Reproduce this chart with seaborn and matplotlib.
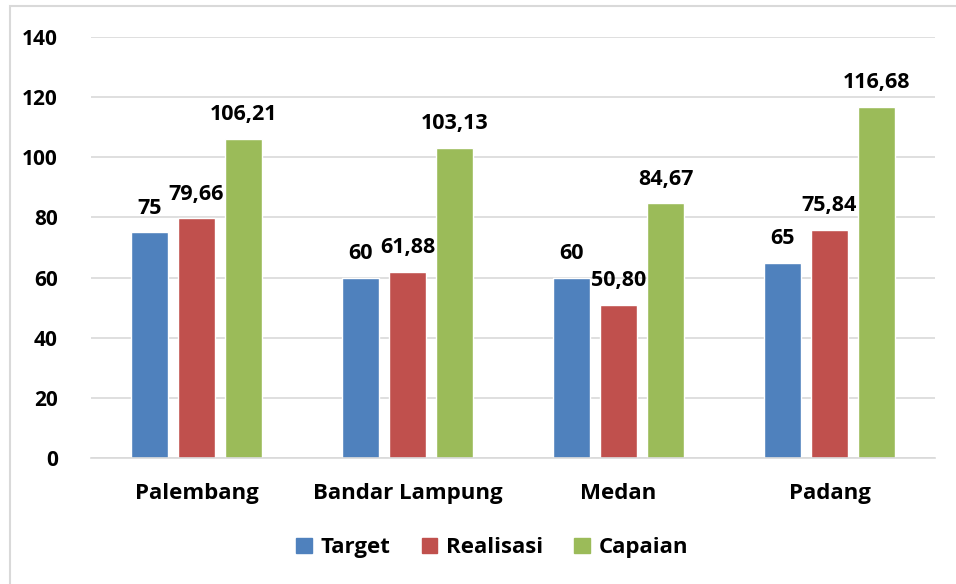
import matplotlib.pyplot as plt
import matplotlib.patches as mpatches
import seaborn as sns
import pandas as pd

cities = ["Palembang", "Bandar Lampung", "Medan", "Padang"]
target = [75, 60, 60, 65]
realisasi = [79.66, 61.88, 50.80, 75.84]
capaian = [106.21, 103.13, 84.67, 116.68]
series = ["Target", "Realisasi", "Capaian"]
colors = ["#4F81BD", "#C0504D", "#9BBB59"]

df = pd.DataFrame({
    "kota": cities * 3,
    "seri": [s for s in series for _ in cities],
    "nilai": target + realisasi + capaian,
})

sns.set_style("white")
plt.rcParams['font.family'] = ['Open Sans', 'DejaVu Sans']
plt.rcParams['font.weight'] = 'bold'
plt.rcParams['text.color'] = 'black'
plt.rcParams['xtick.color'] = 'black'
plt.rcParams['ytick.color'] = 'black'

fig = plt.figure(figsize=(9.56, 5.84), dpi=100)
ax = fig.add_axes([0.0952, 0.2158, 0.8828, 0.7208])

sns.barplot(data=df, x="kota", y="nilai", hue="seri", hue_order=series,
            palette=colors, width=0.67, gap=0.2, saturation=1, ax=ax, legend=False)

ax.set_ylim(0, 140)
ax.set_xlim(-0.5, 3.5)
ax.set_yticks(range(0, 141, 20))
ax.yaxis.grid(True, color="#d9d9d9", linewidth=1.2)
ax.set_axisbelow(True)
for s in ["top", "right", "left"]:
    ax.spines[s].set_visible(False)
ax.spines["bottom"].set_color("#d9d9d9")
ax.spines["bottom"].set_linewidth(1.2)
ax.set_xlabel("")
ax.set_ylabel("")
ax.tick_params(axis="y", length=0, labelsize=15, labelcolor="black", pad=24)
ax.tick_params(axis="x", length=0, labelsize=16, labelcolor="black", pad=18)
for lbl in ax.get_xticklabels() + ax.get_yticklabels():
    lbl.set_fontweight("bold")

for cont in ax.containers:
    labels = [f"{v:.2f}".replace(".", ",") if v != int(v) else f"{int(v)}" for v in cont.datavalues]
    ax.bar_label(cont, labels=labels, padding=10, fontsize=15.5, fontweight="bold",
                 color="black")

handles = [mpatches.Patch(color=c, label=s) for c, s in zip(colors, series)]
leg = fig.legend(handles=handles, loc="center", bbox_to_anchor=(0.515, 0.062), ncol=3,
                 frameon=False, fontsize=16, handlelength=0.7, handleheight=0.7,
                 handletextpad=0.4, columnspacing=1.4)
for t in leg.get_texts():
    t.set_color("black")

border = mpatches.Rectangle((10 / 956, -0.05), 1.2, 1 - 6 / 584 + 0.05,
                            transform=fig.transFigure, fill=False,
                            edgecolor="#d9d9d9", linewidth=1.5)
fig.patches.append(border)

fig.savefig("out.png", dpi=100)
